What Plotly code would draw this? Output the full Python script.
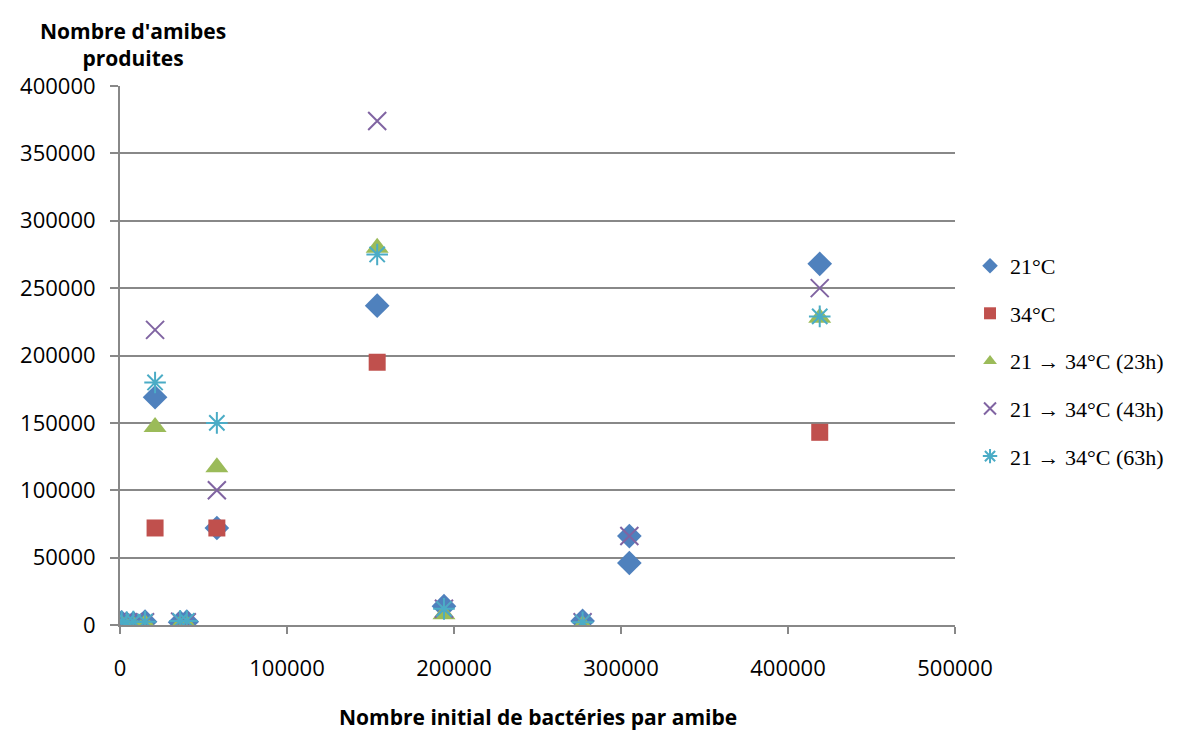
import plotly.graph_objects as go

# Data
x_21 = [1000, 4000, 8000, 15000, 21000, 36000, 40000, 58000, 154000, 194000, 277000, 305000, 305000, 419000]
y_21 = [2000, 1000, 1500, 2500, 169000, 2000, 2500, 72000, 237000, 14000, 3000, 46000, 66000, 268000]

x_34 = [21000, 58000, 154000, 419000]
y_34 = [72000, 72000, 195000, 143000]

x_23h = [1000, 4000, 8000, 15000, 21000, 36000, 40000, 58000, 154000, 194000, 277000, 419000]
y_23h = [0, 0, 0, 1000, 147000, 0, 0, 117000, 280000, 8000, 0, 228000]

x_43h = [1000, 4000, 8000, 15000, 21000, 36000, 40000, 58000, 154000, 194000, 277000, 305000, 419000]
y_43h = [1500, 1000, 2000, 2000, 219000, 2500, 2000, 100000, 374000, 12000, 2000, 66000, 250000]

x_63h = [1000, 4000, 8000, 15000, 21000, 36000, 40000, 58000, 154000, 194000, 277000, 419000]
y_63h = [2500, 2000, 2500, 2500, 180000, 3000, 3000, 150000, 275000, 12000, 2000, 229000]

series_names = ["21°C", "34°C", "21 → 34°C (23h)", "21 → 34°C (43h)", "21 → 34°C (63h)"]

x_ticks = [0, 100000, 200000, 300000, 400000, 500000]
y_ticks = [0, 50000, 100000, 150000, 200000, 250000, 300000, 350000, 400000]

fig = go.Figure()
fig.add_trace(go.Scatter(x=x_21, y=y_21, mode="markers", name=series_names[0], legendgroup="a",
                         marker=dict(symbol="diamond", size=19, color="#4F81BD")))
fig.add_trace(go.Scatter(x=x_34, y=y_34, mode="markers", name=series_names[1], legendgroup="b",
                         marker=dict(symbol="square", size=17, color="#C0504D")))
fig.add_trace(go.Scatter(x=x_23h, y=y_23h, mode="markers", name=series_names[2], legendgroup="c",
                         marker=dict(symbol="triangle-up", size=20, color="#9BBB59")))
fig.add_trace(go.Scatter(x=x_43h, y=y_43h, mode="markers", name=series_names[3], legendgroup="d",
                         marker=dict(symbol="x-thin-open", size=18, color="#8064A2",
                                     line=dict(width=2, color="#8064A2"))))
fig.add_trace(go.Scatter(x=x_63h, y=y_63h, mode="markers", name=series_names[4], legendgroup="e",
                         marker=dict(symbol="asterisk-open", size=18, color="#4BACC6",
                                     line=dict(width=2, color="#4BACC6"))))

fig.update_layout(
    width=1179, height=723,
    margin=dict(l=112, r=232, t=78, b=106),
    paper_bgcolor="white", plot_bgcolor="white",
    font=dict(family="Open Sans, sans-serif", color="black", size=22),
    showlegend=True,
    legend=dict(x=1.018, y=0.49, xanchor="left", yanchor="middle",
                font=dict(family="Liberation Serif, serif", size=22, color="black"),
                itemsizing="constant", tracegroupgap=16, traceorder="grouped", itemwidth=30),
    xaxis=dict(range=[0, 500000], tickvals=x_ticks, ticktext=[str(v) for v in x_ticks],
               showgrid=False, zeroline=False, showline=True, linecolor="#888888", linewidth=2,
               ticks="outside", ticklen=7, tickcolor="#888888", tickwidth=2,
               ticklabelstandoff=16, tickfont=dict(size=22)),
    yaxis=dict(range=[0, 400000], tickvals=y_ticks, ticktext=[str(v) for v in y_ticks],
               showgrid=True, gridcolor="#888888", gridwidth=2, zeroline=False,
               showline=True, linecolor="#888888", linewidth=2,
               ticks="outside", ticklen=8, tickcolor="#888888", tickwidth=2,
               ticklabelstandoff=10, tickfont=dict(size=22)),
    annotations=[
        dict(text="<b>Nombre d'amibes<br>produites</b>", xref="paper", yref="paper",
             x=0.0156, y=1.0, xanchor="center", yanchor="bottom", yshift=12, showarrow=False,
             font=dict(size=21, family="Open Sans, sans-serif"), align="center"),
        dict(text="<b>Nombre initial de bactéries par amibe</b>", xref="paper", yref="paper",
             x=0.5, y=0, xanchor="center", yanchor="top", yshift=-76, showarrow=False,
             font=dict(size=21, family="Open Sans, sans-serif")),
    ],
)

fig.write_html("out.html")
